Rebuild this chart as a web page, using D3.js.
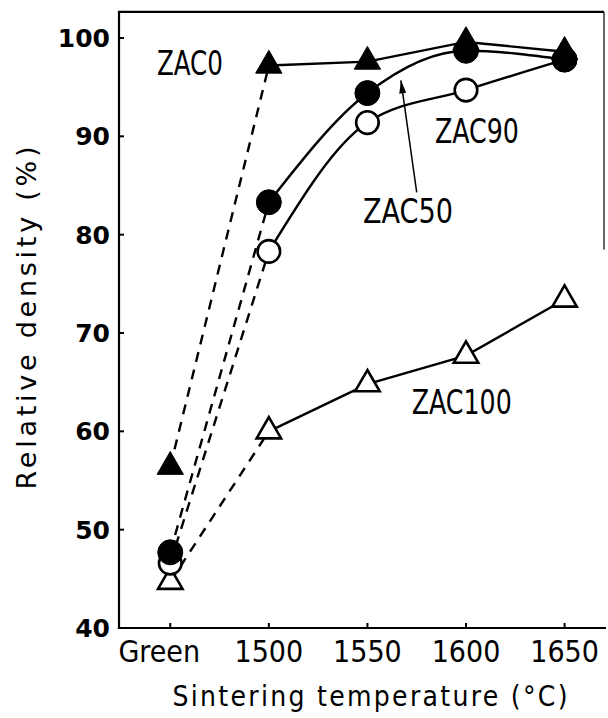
<!DOCTYPE html>
<html>
<head>
<meta charset="utf-8">
<script src="https://cdn.jsdelivr.net/npm/d3@7"></script>
<style>
  body { margin: 0; background: #fff; }
  svg { display: block; }
</style>
</head>
<body>
<svg width="608" height="718"></svg>
<script>
// Relative density vs sintering temperature (ZAC series)

// Data
const categories = ["Green", "1500", "1550", "1600", "1650"];
const zac0   = [56.4, 97.2, 97.6, 99.6, 98.6];
const zac50  = [47.7, 83.3, 94.4, 98.7, 97.8];
const zac90  = [46.6, 78.3, 91.4, 94.7, 97.8];
const zac100 = [44.7, 60.0, 64.8, 67.7, 73.4];
const yTicks = [40, 50, 60, 70, 80, 90, 100];

// Series labels, in data coords (index, value)
const labelNames = ["ZAC0", "ZAC50", "ZAC90", "ZAC100"];
const labelPos   = [[-0.135, 96.2], [1.955, 81.2], [2.685, 89.3], [2.45, 61.8]];
const labelWidth = [66, 90, 84, 100];
const arrowFrom  = [2.5, 84.3];
const arrowTo    = [2.34, 95.7];

const svg = d3.select("svg");

// Scales
const x = d3.scaleLinear().domain([-0.52, 4.4]).range([119, 604]);
const y = d3.scaleLinear().domain([40, 100]).range([628, 38]);

const BLACK = "#000";
const LW = 2.4;

// Frame: left, bottom, top, partial right
const frameTop = y(102.65);
svg.append("path")
    .attr("d", `M${x(4.4)},${frameTop}H${x(-0.52)}V${y(40)}H${x(4.42)}`)
    .attr("fill", "none").attr("stroke", BLACK).attr("stroke-width", 2.2);
svg.append("line")
    .attr("x1", x(4.4)).attr("x2", x(4.4))
    .attr("y1", frameTop).attr("y2", y(78.5))
    .attr("stroke", BLACK).attr("stroke-width", 1.2);

// Y ticks and labels
yTicks.forEach(t => {
  svg.append("line")
      .attr("x1", x(-0.52)).attr("x2", x(-0.52) + 5)
      .attr("y1", y(t)).attr("y2", y(t))
      .attr("stroke", BLACK).attr("stroke-width", 2);
  svg.append("text")
      .attr("x", 110).attr("y", y(t) + 9)
      .attr("text-anchor", "end")
      .attr("font-family", "DejaVu Sans")
      .attr("font-weight", "bold")
      .attr("font-size", 25)
      .text(t);
});

// X ticks and labels
categories.forEach((c, i) => {
  svg.append("line")
      .attr("x1", x(i)).attr("x2", x(i))
      .attr("y1", y(40)).attr("y2", y(40) - 5)
      .attr("stroke", BLACK).attr("stroke-width", 2);
  svg.append("text")
      .attr("x", x(i) + (i === 0 ? -11 : 0)).attr("y", 662)
      .attr("text-anchor", "middle")
      .attr("font-family", "DejaVu Sans Condensed, DejaVu Sans")
      .attr("font-stretch", "condensed")
      .attr("font-size", 30)
      .text(c);
});

// Axis titles
svg.append("text")
    .attr("x", 370).attr("y", 706)
    .attr("text-anchor", "middle")
    .attr("font-family", "DejaVu Sans Condensed, DejaVu Sans")
    .attr("font-stretch", "condensed")
    .attr("font-size", 28)
    .attr("textLength", 395).attr("lengthAdjust", "spacing")
    .text("Sintering temperature (°C)");

svg.append("text")
    .attr("transform", "translate(36,318) rotate(-90)")
    .attr("text-anchor", "middle")
    .attr("font-family", "DejaVu Sans")
    .attr("font-size", 27)
    .attr("textLength", 343).attr("lengthAdjust", "spacing")
    .text("Relative density (%)");

// Series definitions
const series = [
  {name: "ZAC100", values: zac100, shape: d3.symbolTriangle, fill: "#fff", curve: d3.curveLinear},
  {name: "ZAC0",   values: zac0,   shape: d3.symbolTriangle, fill: BLACK, curve: d3.curveLinear},
  {name: "ZAC90",  values: zac90,  shape: d3.symbolCircle,   fill: "#fff", curve: d3.curveMonotoneX},
  {name: "ZAC50",  values: zac50,  shape: d3.symbolCircle,   fill: BLACK, curve: d3.curveMonotoneX}
];

// Dashed lines: green body -> 1500
series.forEach(s => {
  svg.append("line")
      .attr("x1", x(0)).attr("y1", y(s.values[0]))
      .attr("x2", x(1)).attr("y2", y(s.values[1]))
      .attr("stroke", BLACK).attr("stroke-width", LW)
      .attr("stroke-dasharray", "10,8");
});

// Solid lines over the sintered temperatures
series.forEach(s => {
  const pts = s.values.map((v, i) => [i, v]).slice(1);
  const line = d3.line().x(d => x(d[0])).y(d => y(d[1])).curve(s.curve);
  svg.append("path")
      .attr("d", line(pts))
      .attr("fill", "none")
      .attr("stroke", BLACK).attr("stroke-width", LW);
});

// Markers
series.forEach(s => {
  const isTri = s.shape === d3.symbolTriangle;
  const size = isTri ? (s.fill === BLACK ? 300 : 260) : (s.fill === BLACK ? 490 : 400);
  svg.append("g").selectAll("path")
      .data(s.values)
      .join("path")
      .attr("transform", (v, i) => `translate(${x(i)},${y(v)})`)
      .attr("d", d3.symbol().type(s.shape).size(size))
      .attr("fill", s.fill)
      .attr("stroke", BLACK)
      .attr("stroke-width", s.fill === BLACK ? 1 : 2.6);
});

// Series labels
labelNames.forEach((n, i) => {
  svg.append("text")
      .attr("x", x(labelPos[i][0])).attr("y", y(labelPos[i][1]))
      .attr("font-family", "DejaVu Sans Condensed, DejaVu Sans")
      .attr("font-stretch", "condensed")
      .attr("font-size", 33)
      .attr("textLength", labelWidth[i]).attr("lengthAdjust", "spacingAndGlyphs")
      .text(n);
});

// Arrow pointing at the ZAC50 curve
const ax1 = x(arrowFrom[0]), ay1 = y(arrowFrom[1]);
const ax2 = x(arrowTo[0]), ay2 = y(arrowTo[1]);
svg.append("line")
    .attr("x1", ax1).attr("y1", ay1).attr("x2", ax2).attr("y2", ay2)
    .attr("stroke", BLACK).attr("stroke-width", 1.5);
const ang = Math.atan2(ay2 - ay1, ax2 - ax1);
const hl = 13, hw = 3.5;
const bx = ax2 - hl * Math.cos(ang), by = ay2 - hl * Math.sin(ang);
svg.append("path")
    .attr("d", `M${ax2},${ay2}L${bx + hw * Math.sin(ang)},${by - hw * Math.cos(ang)}L${bx - hw * Math.sin(ang)},${by + hw * Math.cos(ang)}Z`)
    .attr("fill", BLACK);
</script>
</body>
</html>
